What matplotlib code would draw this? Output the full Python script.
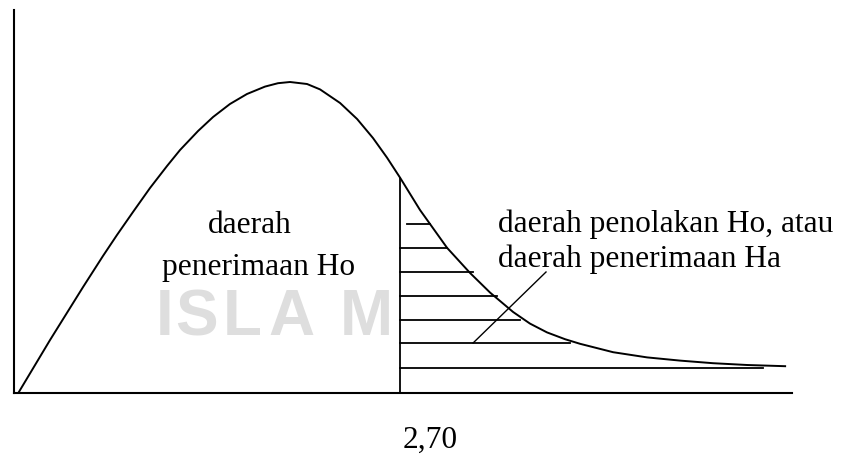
import numpy as np
import matplotlib
matplotlib.use("Agg")
import matplotlib.pyplot as plt

# titik-titik kurva (x: nilai statistik, y: tinggi kurva)
kurva_x = [0.03, 0.252, 0.483, 0.622, 0.720, 0.832, 0.951, 1.070, 1.161, 1.287, 1.392,
           1.510, 1.629, 1.755, 1.846, 1.930, 2.049, 2.140, 2.280, 2.399, 2.510, 2.608,
           2.70, 2.839, 3.028, 3.189, 3.329, 3.490, 3.608, 3.727, 3.853, 3.958, 4.189,
           4.427, 4.657, 4.888, 5.126, 5.392]
kurva_y = [0.0, 0.1325, 0.265, 0.3425, 0.395, 0.4525, 0.5125, 0.5675, 0.6075, 0.655, 0.69,
           0.7225, 0.7475, 0.766, 0.7745, 0.7775, 0.7725, 0.759, 0.725, 0.685, 0.6375, 0.5885,
           0.538, 0.4575, 0.363, 0.30, 0.251, 0.2025, 0.1735, 0.1515, 0.1345, 0.123, 0.102,
           0.089, 0.081, 0.0745, 0.070, 0.067]

nilai_kritis = 2.70
label_kritis = "2,70"

# garis arsir daerah penolakan
arsir_y = [0.4225, 0.3625, 0.3025, 0.2425, 0.1825, 0.125, 0.0625]
arsir_x0 = [2.75, 2.70, 2.70, 2.70, 2.70, 2.70, 2.70]
arsir_x1 = [2.91, 3.03, 3.21, 3.38, 3.54, 3.89, 5.24]

# watermark hasil scan
wm_huruf = ["I", "S", "L", "A", "M"]
wm_x = [0.99, 1.13, 1.46, 1.78, 2.28]

plt.rcParams['font.family'] = ['Liberation Serif', 'DejaVu Serif']

fig = plt.figure(figsize=(8.44, 4.57), dpi=100)
ax = fig.add_axes([14/844, 64/457, 778/844, 383/457])
ax.set_xlim(0, 5.44)
ax.set_ylim(0, 0.9575)

for h, x in zip(wm_huruf, wm_x):
    ax.text(x, 0.145, h, fontsize=46, color="#dedede", fontfamily="Liberation Sans",
            fontweight="bold", ha="left", va="baseline", zorder=0)

#-------------kurva dan garis batas-------------
ax.plot(kurva_x, kurva_y, color="black", lw=1.4, solid_joinstyle="round")
y_kritis = np.interp(nilai_kritis, kurva_x, kurva_y)
ax.plot([nilai_kritis, nilai_kritis], [0, y_kritis], color="black", lw=1.3)

#-------------arsir horizontal-------------
for y, x0, x1 in zip(arsir_y, arsir_x0, arsir_x1):
    ax.plot([x0, x1], [y, y], color="black", lw=1.3)

# garis penunjuk ke keterangan
ax.plot([3.21, 3.72], [0.125, 0.3025], color="black", lw=1.0)

#-------------teks-------------
ax.text(1.65, 0.40, "daerah", fontsize=22.6, ha="center", va="baseline")
ax.text(1.71, 0.295, "penerimaan Ho", fontsize=22.6, ha="center", va="baseline")
ax.text(3.385, 0.4025, "daerah penolakan Ho, atau", fontsize=22.6, ha="left", va="baseline")
ax.text(3.385, 0.315, "daerah penerimaan Ha", fontsize=22.6, ha="left", va="baseline")
ax.text(2.91, -0.1375, label_kritis, fontsize=22.6, ha="center", va="baseline")

for s in ["top", "right"]:
    ax.spines[s].set_visible(False)
for s in ["left", "bottom"]:
    ax.spines[s].set_linewidth(1.5)
ax.set_xticks([])
ax.set_yticks([])

fig.savefig("out.png", dpi=100)
